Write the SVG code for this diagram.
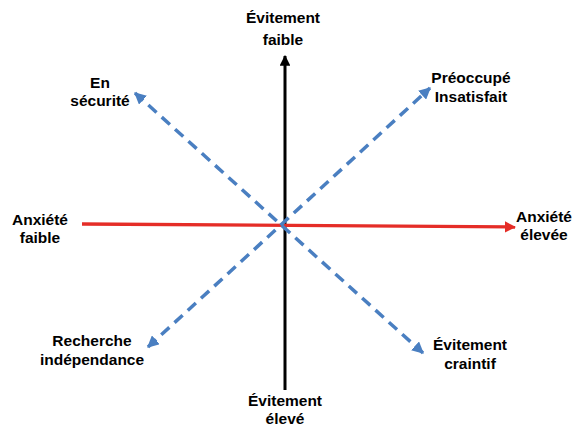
<svg xmlns="http://www.w3.org/2000/svg" width="575" height="426" viewBox="0 0 575 426">
<style>
text{font-family:"Liberation Sans",Arial,sans-serif;font-weight:bold;font-size:15.5px;fill:#000;text-anchor:middle}
.blue{stroke:#4a7fc1;stroke-width:3.5;stroke-dasharray:11 7;fill:none}
</style>
<defs>
<marker id="ab" viewBox="0 0 10 10" refX="9" refY="5" markerWidth="3.6" markerHeight="3.6" markerUnits="strokeWidth" orient="auto-start-reverse"><path d="M0,0L10,5L0,10z" fill="#000"/></marker>
<marker id="ar" viewBox="0 0 10 10" refX="9" refY="5" markerWidth="3.4" markerHeight="3.4" markerUnits="strokeWidth" orient="auto-start-reverse"><path d="M0,0L10,5L0,10z" fill="#e52d27"/></marker>
<marker id="au" viewBox="0 0 10 10" refX="9" refY="5" markerWidth="3.4" markerHeight="3.4" markerUnits="strokeWidth" orient="auto-start-reverse"><path d="M0,0L10,5L0,10z" fill="#4a7fc1"/></marker>
</defs>
<rect width="575" height="426" fill="#fff"/>
<g id="connectors">
<line x1="285" y1="390" x2="285" y2="56" stroke="#000" stroke-width="3" marker-end="url(#ab)"/>
<line x1="82" y1="224" x2="515" y2="227" stroke="#e52d27" stroke-width="3.3" marker-end="url(#ar)"/>
<line class="blue" x1="135" y1="93" x2="423" y2="353" marker-start="url(#au)" marker-end="url(#au)"/>
<line class="blue" x1="148" y1="347" x2="430" y2="88" marker-start="url(#au)" marker-end="url(#au)"/>
</g>
<g id="n-top"><text x="283" y="23">Évitement</text><text x="283" y="45">faible</text></g>
<g id="n-bottom"><text x="285" y="406">Évitement</text><text x="285" y="424">élevé</text></g>
<g id="n-left"><text x="40" y="225">Anxiété</text><text x="40" y="243">faible</text></g>
<g id="n-right"><text x="544" y="222">Anxiété</text><text x="544" y="240">élevée</text></g>
<g id="n-tl"><text x="100" y="88">En</text><text x="100" y="106">sécurité</text></g>
<g id="n-tr"><text x="471" y="83">Préoccupé</text><text x="471" y="102">Insatisfait</text></g>
<g id="n-bl"><text x="92" y="346">Recherche</text><text x="92" y="365">indépendance</text></g>
<g id="n-br"><text x="470" y="350">Évitement</text><text x="470" y="369">craintif</text></g>
</svg>
